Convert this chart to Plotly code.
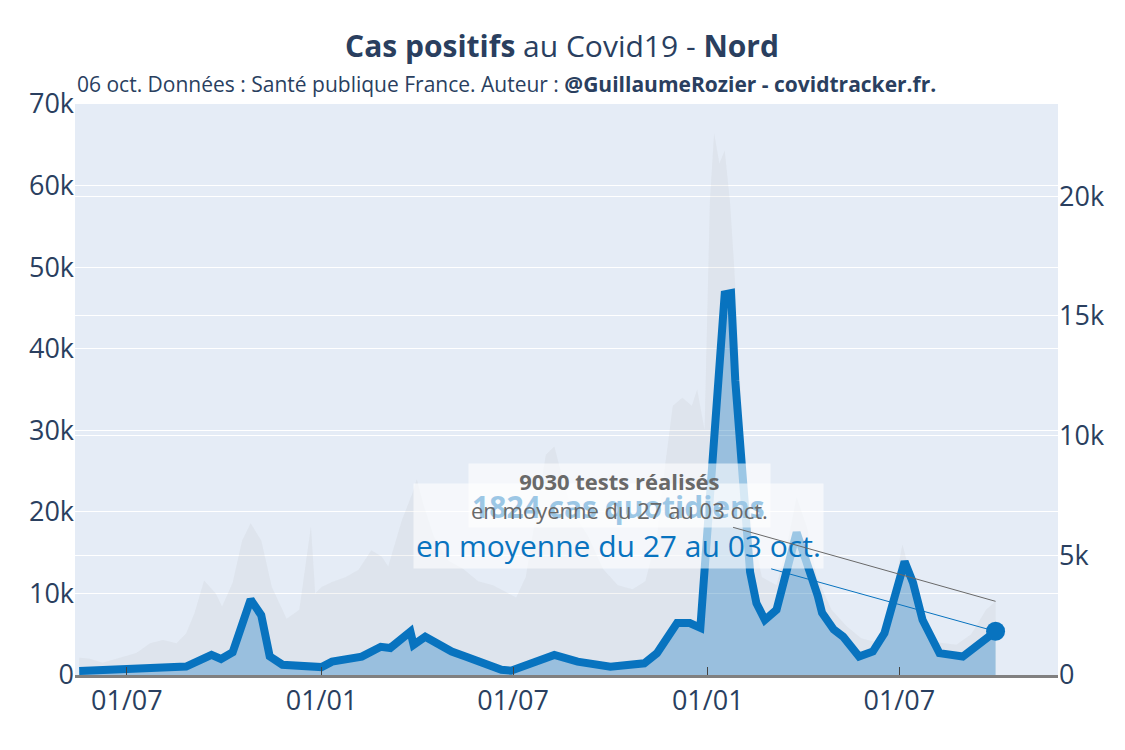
"""Cas positifs au Covid19 - Nord : tests (aire grise) et cas quotidiens (moyenne 7 jours)."""

import plotly.graph_objects as go

COLOR_CASES = "rgb(8, 115, 191)"
COLOR_TESTS = "rgb(105, 105, 105)"

# 7-day average of daily positive cases (right axis)
cases_dates = [
    "2020-05-17", "2020-08-26", "2020-09-19", "2020-09-28", "2020-10-09",
    "2020-10-26", "2020-11-05", "2020-11-13", "2020-11-25", "2020-12-25",
    "2021-01-01", "2021-01-11", "2021-02-08", "2021-02-26", "2021-03-07",
    "2021-03-26", "2021-03-29", "2021-04-09", "2021-05-04", "2021-05-17",
    "2021-06-07", "2021-06-20", "2021-06-29", "2021-07-21", "2021-08-09",
    "2021-08-31", "2021-10-01", "2021-11-02", "2021-11-14", "2021-12-03",
    "2021-12-15", "2021-12-25", "2022-01-17", "2022-01-23", "2022-01-27",
    "2022-02-10", "2022-02-16", "2022-02-24", "2022-03-07", "2022-03-26",
    "2022-04-07", "2022-04-15", "2022-04-19", "2022-04-30", "2022-05-09",
    "2022-05-24", "2022-06-06", "2022-06-17", "2022-07-06", "2022-07-14",
    "2022-07-23", "2022-08-08", "2022-08-30", "2022-09-14", "2022-09-30",
]
cases_avg = [
    170, 350, 840, 670, 950,
    3150, 2500, 780, 430, 340,
    330, 560, 770, 1180, 1130,
    1810, 1260, 1600, 980, 770,
    430, 220, 180, 490, 840,
    560, 350, 490, 910, 2170,
    2170, 1970, 15900, 15950, 12300,
    4300, 3000, 2300, 2720, 5950,
    4500, 3300, 2600, 1900, 1600,
    770, 980, 1750, 4740, 3850,
    2300, 910, 770, 1330, 1824,
]

# daily tests (left axis)
tests_dates = [
    "2020-05-17", "2020-05-27", "2020-06-08", "2020-06-27", "2020-07-10",
    "2020-07-23", "2020-08-04", "2020-08-17", "2020-08-26", "2020-09-03",
    "2020-09-12", "2020-09-23", "2020-09-29", "2020-10-09", "2020-10-18",
    "2020-10-26", "2020-11-05", "2020-11-15", "2020-11-29", "2020-12-11",
    "2020-12-17", "2020-12-22", "2020-12-26", "2021-01-01", "2021-01-11",
    "2021-01-24", "2021-02-05", "2021-02-17", "2021-02-27", "2021-03-05",
    "2021-03-18", "2021-03-28", "2021-04-01", "2021-04-07", "2021-04-17",
    "2021-05-01", "2021-05-15", "2021-05-29", "2021-06-12", "2021-06-26",
    "2021-07-04", "2021-07-13", "2021-07-23", "2021-08-01", "2021-08-09",
    "2021-08-17", "2021-08-26", "2021-09-10", "2021-09-24", "2021-10-08",
    "2021-10-22", "2021-11-03", "2021-11-14", "2021-11-22", "2021-11-29",
    "2021-12-08", "2021-12-17", "2021-12-22", "2021-12-29", "2021-12-31",
    "2022-01-03", "2022-01-07", "2022-01-12", "2022-01-17", "2022-01-22",
    "2022-01-26", "2022-01-29", "2022-02-01", "2022-02-04", "2022-02-12",
    "2022-02-21", "2022-03-07", "2022-03-17", "2022-03-26", "2022-04-05",
    "2022-04-14", "2022-04-28", "2022-05-12", "2022-05-26", "2022-06-09",
    "2022-06-22", "2022-07-04", "2022-07-12", "2022-07-22", "2022-08-05",
    "2022-08-24", "2022-09-07", "2022-09-21", "2022-09-30",
]
tests_daily = [
    2100, 2000, 1500, 2200, 2700,
    3900, 4300, 3900, 5100, 7600,
    11600, 10000, 8400, 11300, 16500,
    18600, 16500, 10800, 6900, 8000,
    13300, 18200, 10000, 10800, 11400,
    12000, 12900, 15300, 14500, 13300,
    19000, 22300, 24000, 21000, 17000,
    14000, 13000, 11500, 11000, 10000,
    9500, 12000, 20000, 27000, 28000,
    24000, 20000, 17000, 13000, 11000,
    10500, 11500, 17000, 26000, 33000,
    34000, 33000, 35000, 30000, 42000,
    58000, 66400, 62700, 64300, 58000,
    50000, 42000, 34000, 27000, 18000,
    12000, 11000, 16000, 21800, 18000,
    12000, 8000, 6000, 4500, 4000,
    8000, 16000, 12000, 6000, 4000,
    3700, 5000, 8000, 9030,
]

last_tests = tests_daily[-1]
last_cases = cases_avg[-1]

fig = go.Figure()

fig.add_trace(
    go.Scatter(
        x=tests_dates,
        y=tests_daily,
        fill="tozeroy",
        fillcolor="rgba(170, 170, 170, 0.12)",
        line={"width": 0},
        mode="lines",
        showlegend=False,
        hoverinfo="skip",
    )
)
fig.add_trace(
    go.Scatter(
        x=cases_dates,
        y=cases_avg,
        yaxis="y2",
        fill="tozeroy",
        fillcolor="rgba(8, 115, 191, 0.32)",
        line={"width": 0},
        mode="lines",
        showlegend=False,
        hoverinfo="skip",
    )
)
fig.add_trace(
    go.Scatter(
        x=cases_dates,
        y=cases_avg,
        yaxis="y2",
        mode="lines",
        line={"color": COLOR_CASES, "width": 8},
        showlegend=False,
    )
)
fig.add_trace(
    go.Scatter(
        x=[cases_dates[-1]],
        y=[last_cases],
        yaxis="y2",
        mode="markers",
        marker={"color": COLOR_CASES, "size": 19},
        showlegend=False,
    )
)

fig.add_annotation(
    x=cases_dates[-1],
    y=last_cases,
    yref="y2",
    text=f"<b>{last_cases} cas quotidiens</b><br>en moyenne du 27 au 03 oct.",
    font={"color": COLOR_CASES, "size": 30},
    bgcolor="rgba(255, 255, 255, 0.6)",
    showarrow=True,
    arrowhead=0,
    arrowwidth=1,
    arrowcolor=COLOR_CASES,
    ax=-377,
    ay=-105,
    borderpad=2,
)
fig.add_annotation(
    x=tests_dates[-1],
    y=last_tests,
    yref="y",
    text=f"<b>{last_tests} tests réalisés</b><br>en moyenne du 27 au 03 oct.",
    font={"color": COLOR_TESTS, "size": 22},
    bgcolor="rgba(255, 255, 255, 0.6)",
    showarrow=True,
    arrowhead=0,
    arrowwidth=1,
    arrowcolor=COLOR_TESTS,
    ax=-376,
    ay=-106,
    borderpad=2,
)
fig.add_annotation(
    x=0,
    y=1.035,
    xref="paper",
    yref="paper",
    xanchor="left",
    yanchor="middle",
    showarrow=False,
    text="06 oct. Données : Santé publique France. Auteur : <b>@GuillaumeRozier - covidtracker.fr.</b>",
    font={"size": 21},
)

fig.update_layout(
    title={
        "text": "<b>Cas positifs</b> au Covid19 - <b>Nord</b>",
        "x": 0.5,
        "xanchor": "center",
        "y": 0.947,
        "yanchor": "middle",
        "font": {"size": 30},
    },
    font={"family": "Open Sans"},
    width=1108,
    height=733,
    margin={"l": 67, "r": 54, "t": 96, "b": 66},
    xaxis={
        "range": ["2020-05-13", "2022-11-28"],
        "tickformat": "%d/%m",
        "dtick": "M6",
        "tick0": "2020-01-01",
        "ticks": "inside",
        "ticklen": 8,
        "tickcolor": "#444",
        "showgrid": False,
        "showline": True,
        "linecolor": "rgb(128, 128, 128)",
        "linewidth": 3,
        "tickfont": {"size": 27},
    },
    yaxis={
        "range": [0, 70000],
        "dtick": 10000,
        "zeroline": False,
        "tickfont": {"size": 27},
    },
    yaxis2={
        "overlaying": "y",
        "side": "right",
        "range": [0, 23850],
        "dtick": 5000,
        "zeroline": False,
        "showgrid": True,
        "gridcolor": "white",
        "tickfont": {"size": 27},
    },
)

fig.write_html("out.html")
